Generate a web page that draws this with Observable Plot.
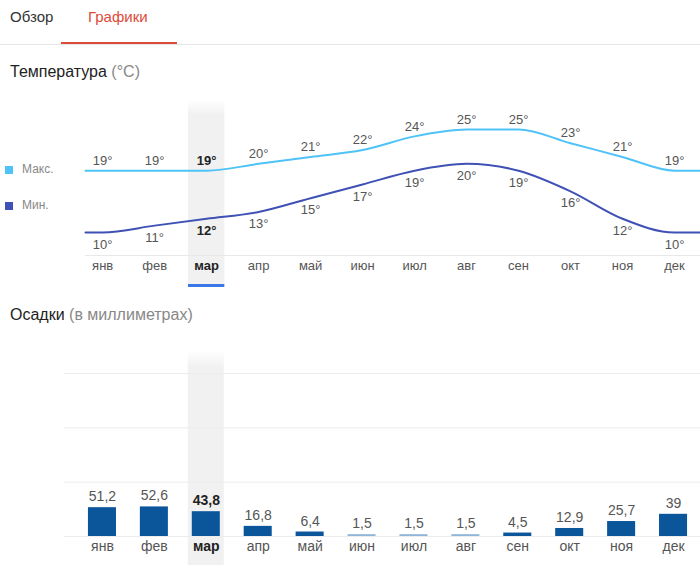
<!DOCTYPE html>
<html>
<head>
<meta charset="utf-8">
<script src="https://cdn.jsdelivr.net/npm/d3@7"></script>
<script src="https://cdn.jsdelivr.net/npm/@observablehq/plot@0.6"></script>
<style>
  html, body { margin: 0; padding: 0; background: #fff; }
  body { width: 700px; height: 565px; position: relative; overflow: hidden;
         font-family: "Liberation Sans", Arial, sans-serif; }
  .abs { position: absolute; white-space: nowrap; }
  .tab { font-size: 15px; line-height: 18px; top: 8px; }
  .title { font-size: 16px; line-height: 18px; color: #222; left: 10px; }
  .title span { color: #888; }
  .sw { width: 8px; height: 8px; left: 5px; }
  .lg { font-size: 12px; line-height: 14px; color: #888; left: 22px; }
  #top { left: 0; top: 95px; }
  #bottom { left: 0; top: 340px; }
</style>
</head>
<body>
<div class="abs tab" style="left:10px;color:#333;">Обзор</div>
<div class="abs tab" style="left:88px;color:#dd4b39;">Графики</div>
<div class="abs" style="left:0;top:44px;width:700px;height:1px;background:#e6e6e6;"></div>
<div class="abs" style="left:61px;top:42px;width:116px;height:2px;background:#dd4b39;"></div>
<div class="abs title" style="top:63px;">Температура <span>(°C)</span></div>
<div class="abs sw" style="top:166px;background:#4fc3f7;"></div>
<div class="abs lg" style="top:162px;">Макс.</div>
<div class="abs sw" style="top:202px;background:#3f51b5;"></div>
<div class="abs lg" style="top:198px;">Мин.</div>
<div class="abs title" style="top:306px;">Осадки <span>(в миллиметрах)</span></div>
<div class="abs" id="top"></div>
<div class="abs" id="bottom"></div>
<script>
const months = ["янв","фев","мар","апр","май","июн","июл","авг","сен","окт","ноя","дек"];
const tMax = [19,19,19,20,21,22,24,25,25,23,21,19];
const tMin = [10,11,12,13,15,17,19,20,19,16,12,10];
const precip = [51.2,52.6,43.8,16.8,6.4,1.5,1.5,1.5,4.5,12.9,25.7,39];
const precipTicks = [0,100,200,300];
const selected = "мар";

const FONT = "'Liberation Sans', Arial, sans-serif";
const maxColor = "#4fc3f7", minColor = "#3f51b5";
const barDark = "#0b559b", barLight = "#8fb6da";
const X0 = -0.33, X1 = 11.5;
const sel = months.indexOf(selected);

const temps = months.map((m, i) => ({i, m, max: tMax[i], min: tMin[i]}));
const ext = key => [
  {x: X0, y: temps[0][key]},
  ...temps.map(d => ({x: d.i, y: d[key]})),
  {x: X1, y: temps[temps.length - 1][key]}
];
const isSel = d => d.m === selected;
const notSel = d => d.m !== selected;

function addFade(svg) {
  d3.select(svg).insert("defs", ":first-child").html(
    '<linearGradient id="fade-' + svg.id + '" x1="0" y1="0" x2="0" y2="1">' +
    '<stop offset="0" stop-color="#f1f1f1" stop-opacity="0"/>' +
    '<stop offset="0.08" stop-color="#f1f1f1" stop-opacity="1"/>' +
    '<stop offset="1" stop-color="#f1f1f1" stop-opacity="1"/></linearGradient>');
}

const topPlot = Plot.plot({
  width: 700, height: 195,
  marginLeft: 85, marginRight: 0, marginTop: 5, marginBottom: 35,
  x: {type: "linear", domain: [X0, X1], axis: null},
  y: {domain: [10, 25], range: [137, 34], axis: null},
  style: {fontFamily: FONT, background: "transparent", overflow: "visible"},
  marks: [
    Plot.rect([sel], {x1: d => d - 0.35, x2: d => d + 0.35, fill: "url(#fade-tp)", insetBottom: -30}),
    Plot.rect([sel], {x1: d => d - 0.35, x2: d => d + 0.35, fill: "#3b78e7", insetTop: 184, insetBottom: -32}),
    Plot.frame({anchor: "bottom", stroke: "#e8e8e8"}),
    Plot.line(ext("max"), {x: "x", y: "y", stroke: maxColor, strokeWidth: 2, curve: "monotone-x"}),
    Plot.line(ext("min"), {x: "x", y: "y", stroke: minColor, strokeWidth: 2, curve: "monotone-x"}),
    Plot.text(temps, {filter: notSel, x: "i", y: "max", text: d => d.max + "°", dy: -10, fontSize: 13, fill: "#555"}),
    Plot.text(temps, {filter: isSel, x: "i", y: "max", text: d => d.max + "°", dy: -10, fontSize: 13, fill: "#222", fontWeight: "bold"}),
    Plot.text(temps, {filter: notSel, x: "i", y: "min", text: d => d.min + "°", dy: 12, fontSize: 13, fill: "#555"}),
    Plot.text(temps, {filter: isSel, x: "i", y: "min", text: d => d.min + "°", dy: 12, fontSize: 13, fill: "#222", fontWeight: "bold"}),
    Plot.text(temps, {filter: notSel, x: "i", text: "m", frameAnchor: "bottom", dy: 14, fontSize: 13, fill: "#555"}),
    Plot.text(temps, {filter: isSel, x: "i", text: "m", frameAnchor: "bottom", dy: 14, fontSize: 13, fill: "#222", fontWeight: "bold"})
  ]
});
topPlot.id = "tp";
addFade(topPlot);
document.getElementById("top").appendChild(topPlot);

const rain = months.map((m, i) => ({m, v: precip[i]}));
const fmt = v => String(v).replace(".", ",");

const bottomPlot = Plot.plot({
  width: 700, height: 225,
  marginLeft: 64, marginRight: 0, marginTop: 10, marginBottom: 0,
  x: {type: "band", domain: months, range: [76, 699], paddingInner: 0.46, paddingOuter: 0.23, round: false, axis: null},
  y: {domain: [0, 300], range: [196, 33], axis: null},
  color: {type: "identity"},
  style: {fontFamily: FONT, background: "transparent", overflow: "visible"},
  marks: [
    Plot.cell([selected], {x: d => d, fill: "url(#fade-bp)", insetLeft: -4, insetRight: -4}),
    Plot.ruleY(precipTicks, {stroke: "#ececec"}),
    Plot.barY(rain, {x: "m", y: "v", fill: d => d.v < 2 ? barLight : barDark, insetTop: -1}),
    Plot.text(rain, {filter: notSel, x: "m", y: "v", text: d => fmt(d.v), dy: -12, fontSize: 14, fill: "#555"}),
    Plot.text(rain, {filter: isSel, x: "m", y: "v", text: d => fmt(d.v), dy: -12, fontSize: 14, fill: "#222", fontWeight: "bold"}),
    Plot.text(rain, {filter: notSel, x: "m", text: "m", frameAnchor: "bottom", dy: -15, fontSize: 14, fill: "#555"}),
    Plot.text(rain, {filter: isSel, x: "m", text: "m", frameAnchor: "bottom", dy: -15, fontSize: 14, fill: "#222", fontWeight: "bold"})
  ]
});
bottomPlot.id = "bp";
addFade(bottomPlot);
document.getElementById("bottom").appendChild(bottomPlot);
</script>
</body>
</html>
